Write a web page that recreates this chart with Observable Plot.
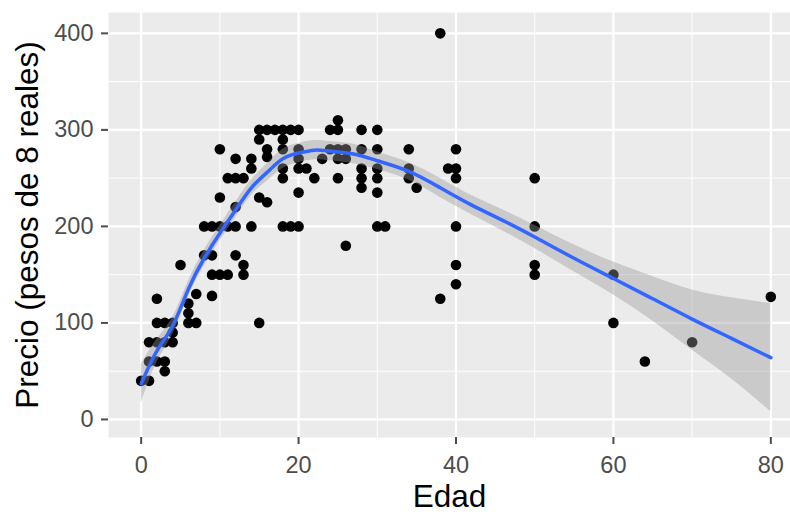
<!DOCTYPE html>
<html><head><meta charset="utf-8">
<script src="https://cdn.jsdelivr.net/npm/d3@7"></script>
<script src="https://cdn.jsdelivr.net/npm/@observablehq/plot@0.6"></script>
<style>body{margin:0;background:#fff;overflow:hidden}</style>
</head><body><div id="chart"></div>
<script>
// Scatter data: age (Edad) and price (Precio)
const edad = [0,1,1,2,3,3, 1,2,3,4,4, 2,3,4,6,7, 6,6,2,7,9, 5,8,9,12,13, 9,10,11,13,15,
  8,9,10,11,12,14,18,19,20, 10,12,15,16,20, 11,12,13,18,22,25, 14,18,20,21,
  10,12,14,20,23,25,26, 15,16,16,18,18,20,
  15,16,17,18,19,20,24,25,25,28,30, 24,25,26,28,30,34,40,
  28,28,28,30,30,30,30,31, 34,34,35, 26,
  38,38,39,40,40,40,40,40, 50,50,50,50, 60,60,64,70,80];
const precio = [40,40,60,60,60,50, 80,80,80,80,90, 100,100,100,100,100, 110,120,125,130,128, 160,170,170,170,160, 150,150,150,150,100,
  200,200,200,200,200,200,200,200,200, 230,220,230,225,235, 250,250,250,250,250,250, 260,260,260,260,
  280,270,270,270,270,270,270, 290,280,272,290,280,280,
  300,300,300,300,300,300,300,300,310,300,300, 280,280,280,280,280,280,280,
  260,250,240,260,250,235,200,200, 260,250,240, 180,
  400,125,260,260,250,200,160,140, 250,200,160,150, 150,100,60,80,127];

// Smooth (loess) curve and confidence band
const smoothEdad = [0,2,4,6,8,10,12,14,16,18,20,22,24,27,30,34,38,42,46,50,55,60,65,70,75,80];
const smoothFit  = [37,71,97,135,167,193,217,240,256,270,276,279,278,275,268,257,240,222,206,189,167,146,125,104,84,64];
const smoothLo   = [17,59,88,127,159,185,209,232,247,260,266,269,268,265,259,248,230,212,195,177,153,129,102,72,42,8];
const smoothHi   = [57,83,106,143,175,201,225,248,265,280,286,289,288,285,277,266,250,232,217,201,181,163,148,134,126,120];

// Ticks
const xTicks = [0,20,40,60,80];
const xMinor = [10,30,50,70];
const yTicks = [0,100,200,300,400];
const yMinor = [50,150,250,350];
const xTitle = "Edad";
const yTitle = "Precio (pesos de 8 reales)";

const points = edad.map((e,i)=>({edad:e, precio:precio[i]}));
const smooth = smoothEdad.map((e,i)=>({edad:e, fit:smoothFit[i], lo:smoothLo[i], hi:smoothHi[i]}));

const chart = Plot.plot({
  width: 790, height: 515,
  marginLeft: 108, marginRight: 0, marginTop: 12, marginBottom: 78,
  style: {fontFamily: "'Liberation Sans', Arial, sans-serif", background: "white", overflow: "visible"},
  x: {domain: [-4.15, 82.5]},
  y: {domain: [-18.7, 421.6]},
  marks: [
    Plot.frame({fill: "#EBEBEB", stroke: null}),
    Plot.gridX(xMinor, {stroke: "white", strokeOpacity: 1, strokeWidth: 1}),
    Plot.gridY(yMinor, {stroke: "white", strokeOpacity: 1, strokeWidth: 1}),
    Plot.gridX(xTicks, {stroke: "white", strokeOpacity: 1, strokeWidth: 2.2}),
    Plot.gridY(yTicks, {stroke: "white", strokeOpacity: 1, strokeWidth: 2.2}),
    Plot.dot(points, {x: "edad", y: "precio", r: 5.3, fill: "black", stroke: null}),
    Plot.areaY(smooth, {x: "edad", y1: "lo", y2: "hi", fill: "#999999", fillOpacity: 0.4, curve: "natural"}),
    Plot.line(smooth, {x: "edad", y: "fit", stroke: "#3366FF", strokeWidth: 3.5, curve: "natural"}),
    Plot.axisX(xTicks, {tickSize: 7, tickPadding: 12, fontSize: 23.5, color: "#4D4D4D", strokeWidth: 2, label: null}),
    Plot.axisY(yTicks, {tickSize: 7, tickPadding: 8, fontSize: 23.5, color: "#4D4D4D", strokeWidth: 2, label: null}),
    Plot.text([xTitle], {text: d => d, frameAnchor: "bottom", textAnchor: "middle", dy: 69, fontSize: 31.5, fill: "black"}),
    Plot.text([yTitle], {text: d => d, frameAnchor: "left", textAnchor: "middle", dx: -81, rotate: -90, fontSize: 31.5, fill: "black"})
  ]
});
document.getElementById("chart").appendChild(chart);
</script>
</body></html>
